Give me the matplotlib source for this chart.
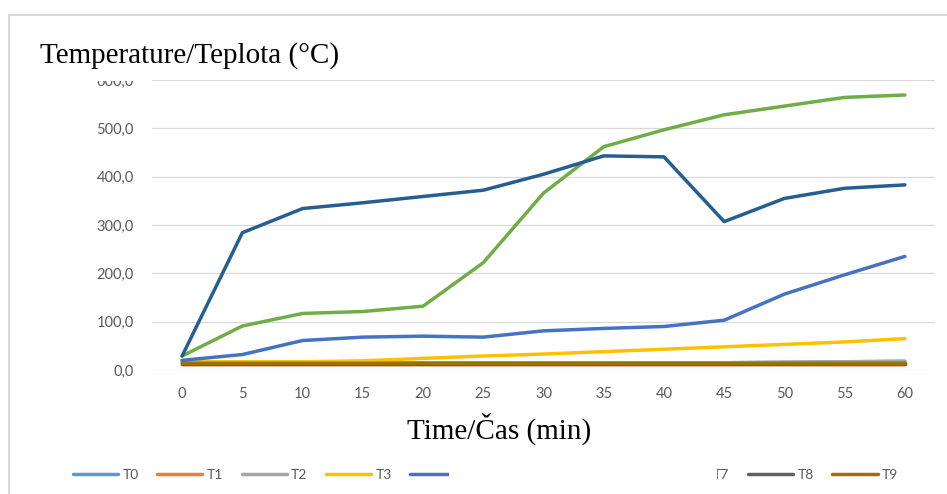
import matplotlib
matplotlib.use("Agg")
import matplotlib.pyplot as plt
from matplotlib.patches import Rectangle
from matplotlib.lines import Line2D

# ---- data ----
time_min = [0, 5, 10, 15, 20, 25, 30, 35, 40, 45, 50, 55, 60]
series_names = ["T0", "T1", "T2", "T3", "T4", "T5", "T6", "T7", "T8", "T9"]
T0 = [16, 16, 16, 15, 15, 15, 15, 15, 15, 15, 16, 17, 18]
T1 = [13, 13, 13, 13, 13, 13, 13, 13, 13, 13, 13, 13, 13]
T2 = [15, 15, 15, 15, 15, 15, 15, 15, 15, 15, 16, 17, 18]
T3 = [17, 17, 17, 19, 24, 29, 33, 38, 43, 48, 53, 58, 65]
T4 = [20, 32, 61, 68, 70, 68, 81, 86, 90, 103, 157, 197, 235]
T5 = [29, 91, 117, 121, 132, 222, 366, 462, 497, 528, 546, 564, 569]
T6 = [29, 284, 334, 346, 359, 372, 405, 443, 441, 307, 355, 376, 383]
T7 = [13, 13, 13, 13, 13, 13, 13, 13, 13, 13, 13, 13, 13]
T8 = [14, 14, 14, 14, 14, 14, 14, 14, 14, 14, 14, 14, 14]
T9 = [14, 14, 14, 14, 14, 14, 14, 14, 14, 14, 14, 14, 14]
series_values = [T0, T1, T2, T3, T4, T5, T6, T7, T8, T9]
y_ticks = [0, 100, 200, 300, 400, 500, 600]
y_tick_labels = ["0,0", "100,0", "200,0", "300,0", "400,0", "500,0", "600,0"]
title_text = "Temperature/Teplota (°C)"
xlabel_text = "Time/Čas (min)"

colors = ["#5B9BD5", "#ED7D31", "#A5A5A5", "#FFC000", "#4472C4",
          "#70AD47", "#255E91", "#9E480E", "#636363", "#997300"]

W, H = 947, 494
fig = plt.figure(figsize=(W / 100, H / 100), dpi=100)
fig.patch.set_facecolor("white")

def fx(px):
    return px / W

def fy(py):
    return 1 - py / H

ax = fig.add_axes([fx(152), fy(370), fx(935) - fx(152), fy(80) - fy(370)])
for name, vals, c in zip(series_names, series_values, colors):
    ax.plot(time_min, vals, color=c, lw=2.5, label=name, solid_capstyle="round")

ax.set_xlim(-2.5, 62.5)
ax.set_ylim(0, 600)
ax.set_xticks(time_min)
ax.set_xticklabels([str(t) for t in time_min])
ax.set_yticks(y_ticks)
ax.set_yticklabels(y_tick_labels)
for s in ax.spines.values():
    s.set_visible(False)
ax.grid(axis="y", color="#D9D9D9", lw=0.9)
ax.set_axisbelow(True)
ax.tick_params(axis="both", length=0, colors="#595959", labelsize=10.5)
ax.tick_params(axis="y", pad=13)
ax.tick_params(axis="x", pad=12)
for lab in ax.get_xticklabels() + ax.get_yticklabels():
    lab.set_fontfamily("Lato")

# legend
leg = fig.legend(loc="center left", bbox_to_anchor=(fx(73), fy(475)),
                 ncol=10, frameon=False, prop={"family": "Lato", "size": 10},
                 handlelength=3.25, handletextpad=0.3, columnspacing=1.35,
                 borderpad=0, borderaxespad=0)
for t in leg.get_texts():
    t.set_color("#595959")
for h in leg.legend_handles:
    h.set_linewidth(2.5)

# outer chart frame
fig.add_artist(Line2D([fx(8.5), fx(8.5)], [0, fy(15)], color="#D9D9D9", lw=1.5, zorder=3))
fig.add_artist(Line2D([fx(8.5), 1], [fy(15), fy(15)], color="#D9D9D9", lw=1.5, zorder=3))

# white overlay boxes (pasted labels)
fig.add_artist(Rectangle((fx(30), fy(79)), fx(515) - fx(30), fy(28) - fy(79),
                         facecolor="white", edgecolor="none", zorder=10))
fig.add_artist(Rectangle((fx(30), fy(81.5)), fx(150) - fx(30), fy(28) - fy(81.5),
                         facecolor="white", edgecolor="none", zorder=10))
fig.add_artist(Rectangle((fx(449), fy(490)), fx(717) - fx(449), fy(458) - fy(490),
                         facecolor="white", edgecolor="none", zorder=10))

fig.text(fx(40), fy(56), title_text, fontsize=21, family="Liberation Serif",
         color="black", ha="left", va="center", zorder=11)
fig.text(fx(499), fy(429), xlabel_text, fontsize=21, family="Liberation Serif",
         color="black", ha="center", va="center", zorder=11)

fig.savefig("out.png", dpi=100)
